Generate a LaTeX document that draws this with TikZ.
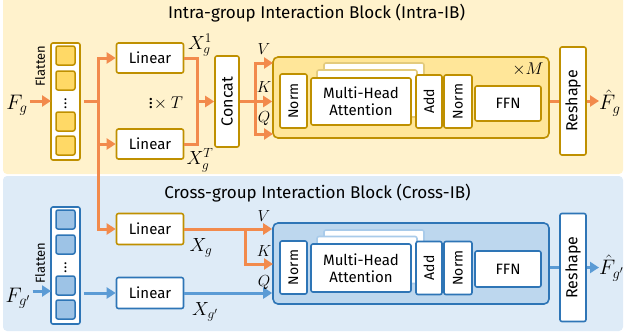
\RequirePackage{fix-cm}
\documentclass[tikz,border=0pt]{standalone}
\usepackage{fontspec}
\setmainfont{Fira Sans}
\usetikzlibrary{arrows.meta}
\definecolor{creambg}{HTML}{FFF2CC}
\definecolor{bluebg}{HTML}{DEEBF7}
\definecolor{gold}{HTML}{BF9000}
\definecolor{goldfade}{HTML}{E3CB7E}
\definecolor{sqyellow}{HTML}{FFD966}
\definecolor{blkyellow}{HTML}{FFE699}
\definecolor{deepblue}{HTML}{2E75B6}
\definecolor{bluefade}{HTML}{A9CBEA}
\definecolor{sqblue}{HTML}{9DC3E6}
\definecolor{blkblue}{HTML}{BDD7EE}
\definecolor{orangeline}{HTML}{F28A4C}
\definecolor{blueline}{HTML}{5B9BD5}
\begin{document}
\begin{tikzpicture}[x=1pt,y=-1pt,
  box/.style={draw=#1, fill=white, line width=1.6pt, rounded corners=2pt,
    inner sep=0pt, align=center, font=\fontsize{15}{17}\selectfont},
  sq/.style={draw=#1, line width=1.5pt, rounded corners=2pt, minimum size=19pt, inner sep=0pt},
  col/.style={draw=#1, fill=white, line width=1.6pt, rounded corners=2pt,
    minimum width=29pt, minimum height=117pt, inner sep=0pt},
  blk/.style={draw=#1, line width=1.6pt, rounded corners=5pt,
    minimum width=276pt, minimum height=81pt, inner sep=0pt},
  ttl/.style={font=\fontsize{17}{20}\selectfont, anchor=base},
  lbl/.style={font=\fontsize{19}{22}\selectfont, inner sep=0pt},
  big/.style={font=\fontsize{21}{24}\selectfont, inner sep=0pt},
  qkv/.style={font=\fontsize{16}{18}\selectfont, inner sep=0pt},
  oline/.style={draw=orangeline, line width=3pt},
  bline/.style={draw=blueline, line width=3pt},
  oarrow/.style={oline, -{Triangle[length=9pt,width=11pt]}},
  barrow/.style={bline, -{Triangle[length=9pt,width=11pt]}},
]
\useasboundingbox (0,0) rectangle (626,333);
% panels
\fill[creambg, rounded corners=4pt] (3,-4) rectangle (623,174);
\fill[bluebg, rounded corners=4pt] (3,176) rectangle (623,331);
\node[ttl] (title1) at (316.5,18.5) {Intra-group Interaction Block (Intra-IB)};
\node[ttl] (title2) at (317.5,198) {Cross-group Interaction Block (Cross-IB)};

% ---------- intra-group block ----------
\node[col=gold] (col1) at (65.5,101.5) {};
\foreach \yy/\nm in {55.5/a,80.5/b,121.5/c,145.5/d}
  \node[sq=gold, fill=sqyellow] (s1\nm) at (65.5,\yy) {};
\node[inner sep=0pt, font=\fontsize{14}{14}\selectfont] (dots1) at (65.5,101) {$\vdots$};
\node[rotate=90, font=\fontsize{13}{15}\selectfont] (flat1) at (40,66) {Flatten};
\node[big] (fg1) at (17,105) {$F_g$};
\coordinate (in1) at (51,101);
\draw[oarrow, shorten <=2pt] (fg1.east |- in1) -- (in1);

\node[box=gold, minimum width=67pt, minimum height=30pt] (lin1) at (150,58) {Linear};
\node[box=gold, minimum width=67pt, minimum height=30pt] (lin2) at (150,144) {Linear};
\coordinate (br) at (98,101);
\draw[oline, shorten <=3pt] (col1.east |- br) -- (br);
\draw[oarrow] (br) |- (lin1.west);
\draw[oarrow] (br) |- (lin2.west);
\node[lbl] (x1) at (200,45) {$X_g^1$};
\node[lbl] (xT) at (200,160) {$X_g^T$};
\node[lbl, font=\fontsize{17}{20}\selectfont] (rep) at (166,101) {$\vdots\!\times T$};

\node[box=gold, minimum width=24pt, minimum height=91pt] (concat) at (227,101.5) {\rotatebox{90}{\fontsize{16}{18}\selectfont Concat}};
\coordinate (mg) at (197,101.5);
\draw[oline] (lin1.east) -| (mg);
\draw[oline] (lin2.east) -| (mg);
\draw[oarrow] (mg) -- (concat.west);

\node[blk=gold, fill=blkyellow] (blk1) at (411,97.5) {};
\coordinate (sp1) at (255,101.5);
\coordinate (v1) at (273,63);
\coordinate (q1) at (273,134);
\draw[oarrow] (concat.east) -- (concat.east -| blk1.west);
\draw[oarrow] (sp1) |- (v1);
\draw[oarrow] (sp1) |- (q1);
\node[qkv] (lv1) at (264,49) {$V$};
\node[qkv] (lk1) at (264,87) {$K$};
\node[qkv] (lq1) at (264,119) {$Q$};
\node[qkv, font=\fontsize{17}{20}\selectfont] (m1) at (528,69) {$\times M$};

\node[box=gold, minimum width=27pt, minimum height=54pt] (n1) at (293.5,101) {\rotatebox{90}{\fontsize{14}{16}\selectfont Norm}};
\node[box=goldfade, minimum width=100pt, minimum height=47pt] (mhc1) at (374,86.5) {};
\node[box=goldfade, minimum width=100pt, minimum height=47pt] (mhb1) at (367,93.5) {};
\node[box=gold, minimum width=100pt, minimum height=47pt] (mha1) at (361,101.5) {Multi-Head\\Attention};
\node[box=gold, minimum width=26pt, minimum height=53pt] (add1) at (429,101.5) {\rotatebox{90}{\fontsize{14}{16}\selectfont Add}};
\node[box=gold, minimum width=28pt, minimum height=53pt] (nn1) at (458,101.5) {\rotatebox{90}{\fontsize{14}{16}\selectfont Norm}};
\node[box=gold, minimum width=66pt, minimum height=35pt] (ffn1) at (508,103.5) {FFN};

\node[box=gold, minimum width=26pt, minimum height=108pt] (rs1) at (573,101) {\rotatebox{90}{\fontsize{16}{18}\selectfont Reshape}};
\draw[oline] (rs1.west -| blk1.east) -- (rs1.west);
\node[big, anchor=west] (fh1) at (599,103) {$\hat{F}_g$};
\draw[oarrow] (rs1.east) -- (rs1.east -| fh1.west);

% ---------- cross-group block ----------
\node[col=deepblue] (col2) at (65.5,265.5) {};
\foreach \yy/\nm in {219.5/a,244.5/b,285.5/c,309.5/d}
  \node[sq=deepblue, fill=sqblue] (s2\nm) at (65.5,\yy) {};
\node[inner sep=0pt, font=\fontsize{14}{14}\selectfont] (dots2) at (65.5,265) {$\vdots$};
\node[rotate=90, font=\fontsize{13}{15}\selectfont] (flat2) at (40,263) {Flatten};
\node[big] (fg2) at (18,298) {$F_{g'}$};
\coordinate (in2) at (51,291);
\draw[barrow, shorten <=2pt] (fg2.east |- in2) -- (in2);

\node[box=gold, minimum width=67pt, minimum height=31pt] (lin3) at (150,229) {Linear};
\node[box=deepblue, minimum width=67pt, minimum height=31pt] (lin4) at (150,293) {Linear};
\draw[oarrow] (br) |- (lin3.west);
\draw[barrow, shorten <=3pt] (col2.east |- lin4) -- (lin4.west);
\node[lbl] (xg) at (201,248) {$X_g$};
\node[lbl] (xg2) at (205,312) {$X_{g'}$};

\node[blk=deepblue, fill=blkblue] (blk2) at (411,263.5) {};
\coordinate (sp2) at (245,229);
\coordinate (k2) at (273,264);
\draw[oarrow] (lin3.east) -- (lin3.east -| blk2.west);
\draw[oarrow] (sp2) |- (k2);
\draw[barrow] (lin4.east) -- (lin4.east -| blk2.west);
\node[qkv] (lv2) at (264,216) {$V$};
\node[qkv] (lk2) at (264,251) {$K$};
\node[qkv] (lq2) at (264,283) {$Q$};

\node[box=deepblue, minimum width=27pt, minimum height=53pt] (n2) at (293.5,267.5) {\rotatebox{90}{\fontsize{14}{16}\selectfont Norm}};
\node[box=bluefade, minimum width=100pt, minimum height=47pt] (mhc2) at (374,253.5) {};
\node[box=bluefade, minimum width=100pt, minimum height=47pt] (mhb2) at (367,260) {};
\node[box=deepblue, minimum width=100pt, minimum height=48pt] (mha2) at (361,268) {Multi-Head\\Attention};
\node[box=deepblue, minimum width=26pt, minimum height=53pt] (add2) at (429,268) {\rotatebox{90}{\fontsize{14}{16}\selectfont Add}};
\node[box=deepblue, minimum width=28pt, minimum height=53pt] (nn2) at (458,268) {\rotatebox{90}{\fontsize{14}{16}\selectfont Norm}};
\node[box=deepblue, minimum width=66pt, minimum height=36pt] (ffn2) at (508,269) {FFN};

\node[box=deepblue, minimum width=26pt, minimum height=108pt] (rs2) at (573,267.5) {\rotatebox{90}{\fontsize{16}{18}\selectfont Reshape}};
\draw[bline] (rs2.west -| blk2.east) -- (rs2.west);
\node[big, anchor=west] (fh2) at (599,268) {$\hat{F}_{g'}$};
\draw[barrow] (rs2.east) -- (rs2.east -| fh2.west);
\end{tikzpicture}
\end{document}
